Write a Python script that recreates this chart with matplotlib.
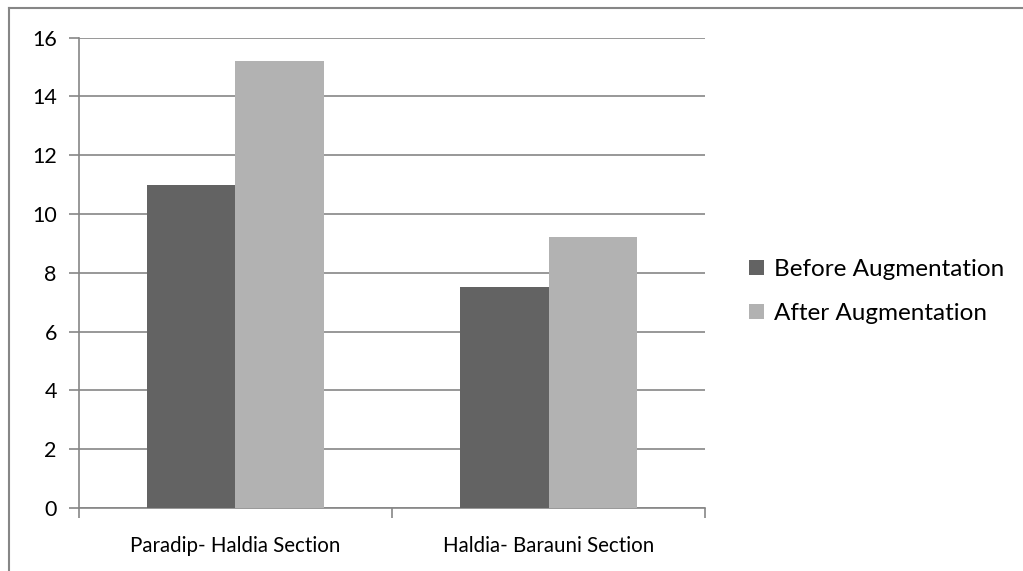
import matplotlib.pyplot as plt
import numpy as np
from matplotlib.lines import Line2D

# data
categories = ["Paradip- Haldia Section", "Haldia- Barauni Section"]
before = [11, 7.5]
after = [15.2, 9.2]
series_names = ["Before Augmentation", "After Augmentation"]
yticks = [0, 2, 4, 6, 8, 10, 12, 14, 16]

plt.rcParams['font.family'] = ['Lato', 'DejaVu Sans']
grid_c = '#868686'

fig = plt.figure(figsize=(10.23, 5.71), dpi=100)
ax = fig.add_axes([0.0772, 0.1103, 0.6120, 0.8240])

x = np.arange(len(categories)) + 0.5
w = 0.284
ax.bar(x - w / 2, before, w, color='#636363', label=series_names[0], zorder=3)
ax.bar(x + w / 2, after, w, color='#b2b2b2', label=series_names[1], zorder=3)

ax.set_xlim(0, 2)
ax.set_ylim(0, 16)
ax.set_yticks(yticks)
ax.set_yticklabels([str(v) for v in yticks], fontsize=15.5)
ax.yaxis.grid(True, color=grid_c, linewidth=1.2, zorder=0)

# category ticks on boundaries, labels centred
ax.set_xticks([0, 1, 2])
ax.set_xticklabels([])
ax.set_xticks(x, minor=True)
ax.set_xticklabels(categories, minor=True, fontsize=14.8)
ax.tick_params(axis='x', which='minor', length=0, pad=20)
ax.tick_params(axis='x', which='major', length=7, color=grid_c, width=1.2)
ax.tick_params(axis='y', length=7, color=grid_c, width=1.2, pad=9)

for s in ['top', 'right']:
    ax.spines[s].set_visible(False)
for s in ['left', 'bottom']:
    ax.spines[s].set_color(grid_c)
    ax.spines[s].set_linewidth(1.2)

fig.legend(loc='center left', bbox_to_anchor=(0.711, 0.489), frameon=False,
           fontsize=17.5, handlelength=0.6, handleheight=0.6, handletextpad=0.4,
           labelspacing=0.95)

# outer chart border (top and left only visible)
fig.add_artist(Line2D([9 / 1023, 1], [1 - 8 / 571, 1 - 8 / 571], color=grid_c, lw=1.5))
fig.add_artist(Line2D([9 / 1023, 9 / 1023], [0, 1 - 8 / 571], color=grid_c, lw=1.5))

fig.savefig('out.png', dpi=100)
